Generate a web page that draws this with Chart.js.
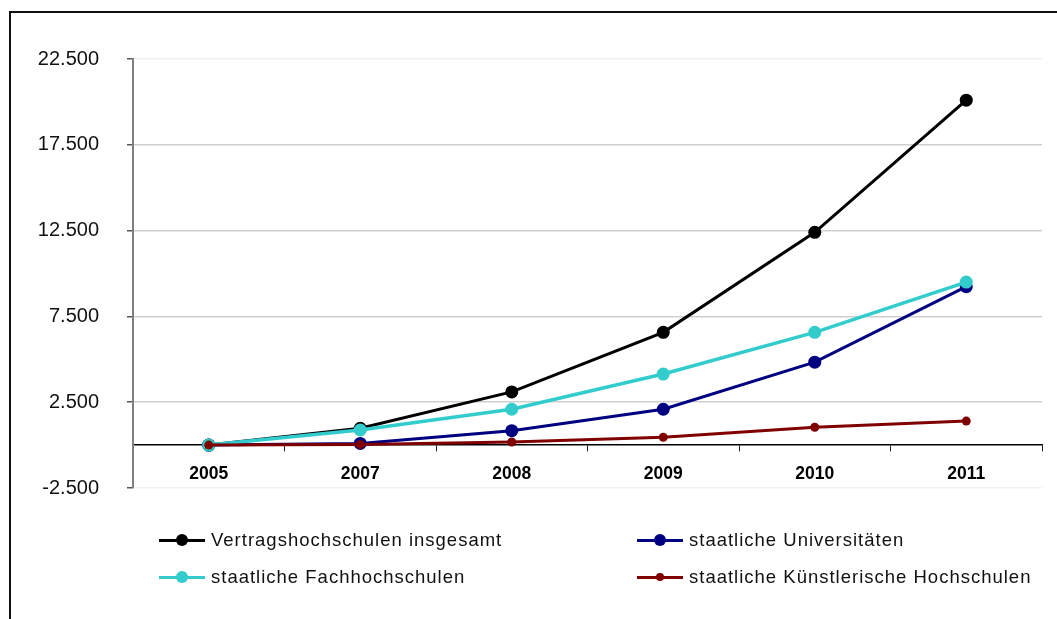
<!DOCTYPE html>
<html>
<head>
<meta charset="utf-8">
<script src="https://cdn.jsdelivr.net/npm/chart.js@4/dist/chart.umd.min.js"></script>
<style>
  html, body { margin: 0; padding: 0; background: #fff; }
  #wrap { position: relative; width: 1057px; height: 619px; overflow: hidden; }
  #frame { position: absolute; left: 9px; top: 11px; width: 1200px; height: 800px; border: 2px solid #111; }
  #chart { position: absolute; left: 0; top: 0; }
  .leg { position: absolute; height: 20px; display: flex; align-items: center;
         font-family: "Liberation Sans", Arial, sans-serif; font-size: 18.5px; letter-spacing: 1px; color: #111; white-space: nowrap; }
  .sym { position: relative; width: 46px; height: 20px; margin-right: 6px; }
  .sym .ln { position: absolute; left: 0; right: 0; top: 8.5px; height: 3px; }
  .sym .dot { position: absolute; border-radius: 50%; }
</style>
</head>
<body>
<div id="wrap">
  <div id="frame"></div>
  <canvas id="chart" width="1057" height="619"></canvas>
  <div id="legend"></div>
</div>
<script>
// Jahre und Werte je Hochschulart
const years = ['2005', '2007', '2008', '2009', '2010', '2011'];
const insgesamt = [0, 980, 3100, 6570, 12400, 20100];
const universitaeten = [0, 100, 840, 2090, 4830, 9230];
const fachhochschulen = [0, 880, 2090, 4140, 6570, 9500];
const kuenstlerisch = [0, 30, 180, 455, 1040, 1400];

const yTicks = [-2500, 2500, 7500, 12500, 17500, 22500];

const series = [
    { label: 'Vertragshochschulen insgesamt', data: insgesamt, color: '#000000', r: 6.5, width: 3, order: 3, legX: 159, legY: 530 },
    { label: 'staatliche Universitäten', data: universitaeten, color: '#000080', r: 6.5, width: 3, order: 2, legX: 637, legY: 530 },
    { label: 'staatliche Fachhochschulen', data: fachhochschulen, color: '#33CCCC', r: 6.5, width: 3.5, order: 1, legX: 159, legY: 567 },
    { label: 'staatliche Künstlerische Hochschulen', data: kuenstlerisch, color: '#800000', r: 4.5, width: 3, order: 0, legX: 637, legY: 567 }
];

const fmt = v => v.toLocaleString('de-DE');

new Chart(document.getElementById('chart').getContext('2d'), {
    type: 'line',
    data: {
        labels: years,
        datasets: series.map(s => ({
            label: s.label,
            data: s.data,
            borderColor: s.color,
            backgroundColor: s.color,
            borderWidth: s.width,
            pointRadius: s.r,
            pointBorderWidth: 0,
            pointBackgroundColor: s.color,
            tension: 0,
            order: s.order,
            clip: false
        }))
    },
    options: {
        responsive: false,
        animation: false,
        layout: { padding: { left: 0, right: 15, top: 59, bottom: 131 } },
        plugins: { legend: { display: false }, tooltip: { enabled: false } },
        scales: {
            x: {
                type: 'category',
                position: { y: 0 },
                offset: true,
                border: { color: '#000', width: 1.5 },
                grid: { drawOnChartArea: false, drawTicks: true, tickLength: 6, offset: true, color: '#222' },
                ticks: {
                    color: '#000',
                    padding: 13,
                    font: { family: '"Liberation Sans", Arial, sans-serif', size: 17.5, weight: 'bold' }
                }
            },
            y: {
                min: -2500,
                max: 22500,
                afterFit: scale => { scale.width = 133; },
                afterBuildTicks: scale => { scale.ticks = yTicks.map(v => ({ value: v })); },
                border: { color: '#808080', width: 2 },
                grid: {
                    color: ctx => (ctx.tick && (ctx.tick.value === 22500 || ctx.tick.value === -2500)) ? '#f1f1f1' : '#cfcfcf',
                    tickColor: '#555',
                    tickLength: 6,
                    lineWidth: 1.5
                },
                ticks: {
                    color: '#111',
                    padding: 28,
                    callback: v => fmt(v),
                    font: { family: '"Liberation Sans", Arial, sans-serif', size: 20 }
                }
            }
        }
    }
});

// Legende in zwei Spalten
const legend = document.getElementById('legend');
series.forEach(s => {
    const item = document.createElement('div');
    item.className = 'leg';
    item.style.left = s.legX + 'px';
    item.style.top = s.legY + 'px';
    const d = s.r * 2 - 1;
    item.innerHTML =
        `<div class="sym"><div class="ln" style="background:${s.color}"></div>` +
        `<div class="dot" style="background:${s.color};width:${d}px;height:${d}px;left:${23 - d / 2}px;top:${10 - d / 2}px"></div></div>` +
        `<span>${s.label}</span>`;
    legend.appendChild(item);
});
</script>
</body>
</html>
